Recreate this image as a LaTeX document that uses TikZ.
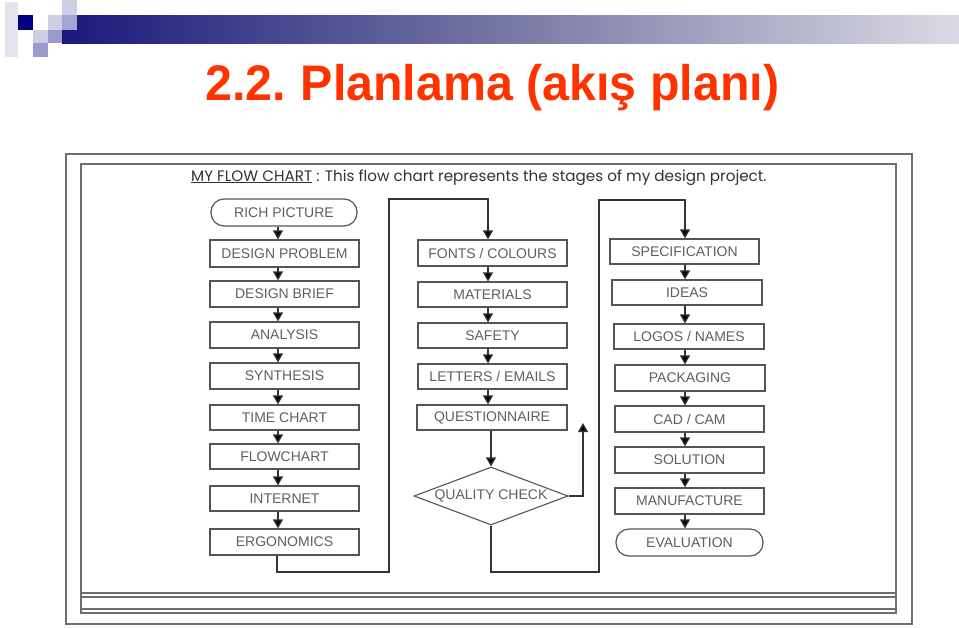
\documentclass[tikz,border=0pt]{standalone}
\usepackage{fontspec}
\setmainfont{Liberation Sans}
\newfontfamily\headfont{Poppins}
\usetikzlibrary{arrows.meta,shapes.geometric}
\definecolor{titlered}{RGB}{255,51,0}
\definecolor{navysq}{RGB}{0,0,128}
\definecolor{boxline}{RGB}{85,85,85}
\definecolor{boxtext}{RGB}{95,95,95}
\definecolor{frameline}{RGB}{110,110,110}
\definecolor{sqlight}{RGB}{205,205,228}
\definecolor{sqmid}{RGB}{155,155,202}
\definecolor{sqpale}{RGB}{228,228,238}
\definecolor{barleft}{RGB}{25,25,125}
\definecolor{barmid}{RGB}{120,120,165}
\definecolor{barright}{RGB}{218,218,228}
\tikzset{
  stepbox/.style={draw=boxline, line width=1.2pt, minimum width=149pt, minimum height=26pt,
    inner sep=0pt, font=\fontsize{14}{14}\selectfont, text=boxtext},
  termbox/.style={stepbox, rounded corners=13pt},
  decbox/.style={draw=boxline, line width=1.1pt, diamond, aspect=2.65, minimum width=154pt,
    minimum height=58pt, inner sep=0pt, font=\fontsize{14}{14}\selectfont, text=boxtext},
  arr/.style={draw=black!80, line width=1.3pt, -{Triangle[width=10pt,length=9pt,fill=black]}},
  frame/.style={draw=frameline, line width=1.1pt},
}
\begin{document}
\begin{tikzpicture}[x=1pt,y=-1pt]
\useasboundingbox (0,0) rectangle (959,627);
\fill[white] (0,0) rectangle (959,627);
% header decoration
\fill[sqpale] (5,2) rectangle (18,57);
\shade[left color=barleft, right color=barright, middle color=barmid] (62,15) rectangle (959,43);
\fill[navysq] (18,15) rectangle (33,30);
\fill[sqlight] (48,15) rectangle (62,30);
\fill[sqlight] (62,0) rectangle (77,15);
\fill[sqmid!80!sqlight] (62,15) rectangle (77,30);
\fill[sqlight] (33,30) rectangle (48,43);
\fill[sqmid] (48,30) rectangle (62,43);
\fill[sqmid] (33,43) rectangle (48,57);
% title
\node[anchor=base west, inner sep=0pt, text=titlered, font=\fontsize{50}{50}\selectfont\bfseries] (title) at (205,100) {\scalebox{0.967}[1]{2.2.\kern-3pt{} Planlama (akış planı)}};
% frames
\draw[frame] (66,154) rectangle (912,624);
\draw[frame] (81,164) rectangle (896,613);
\draw[frame] (81,593) -- (896,593);
\draw[frame] (81,597) -- (896,597);
\draw[frame] (81,609) -- (896,609);
% caption
\node[anchor=base west, inner sep=0pt, text=black!80, font=\headfont\fontsize{15.2}{16}\selectfont] (cap) at (191,181) {\underline{MY FLOW CHART} : This flow chart represents the stages of my design project.};
% column 1
\node[termbox, minimum width=146pt, minimum height=27pt] (rich) at (284,212.5) {RICH PICTURE};
\node[stepbox, minimum height=27pt] (dprob) at (284.5,253.5) {DESIGN PROBLEM};
\node[stepbox] (dbrief) at (284.5,294) {DESIGN BRIEF};
\node[stepbox] (anal) at (284.5,335) {ANALYSIS};
\node[stepbox] (synth) at (284.5,376) {SYNTHESIS};
\node[stepbox, minimum height=25pt] (time) at (284.5,417.5) {TIME CHART};
\node[stepbox, minimum height=25pt] (flow) at (284.5,456.5) {FLOWCHART};
\node[stepbox, minimum height=25pt] (inet) at (284.5,498.5) {INTERNET};
\node[stepbox] (ergo) at (284.5,542) {ERGONOMICS};
% column 2
\node[stepbox] (fonts) at (492.5,253) {FONTS / COLOURS};
\node[stepbox, minimum height=25pt] (mat) at (492.5,294.5) {MATERIALS};
\node[stepbox, minimum height=25pt] (safe) at (492.5,335.5) {SAFETY};
\node[stepbox, minimum height=25pt] (lett) at (492.5,376.5) {LETTERS / EMAILS};
\node[stepbox, minimum width=150pt, minimum height=25pt] (quest) at (492,417.5) {QUESTIONNAIRE};
\node[decbox] (qc) at (491,496) {QUALITY CHECK};
% column 3
\node[stepbox, minimum height=25pt] (spec) at (684.5,251.5) {SPECIFICATION};
\node[stepbox, minimum width=150pt, minimum height=25pt] (ideas) at (687,292.5) {IDEAS};
\node[stepbox, minimum width=150pt, minimum height=25pt] (logos) at (689,336.5) {LOGOS / NAMES};
\node[stepbox, minimum width=150pt] (pack) at (690,378) {PACKAGING};
\node[stepbox] (cad) at (689.5,419) {CAD / CAM};
\node[stepbox] (sol) at (689.5,460) {SOLUTION};
\node[stepbox] (manu) at (689.5,501) {MANUFACTURE};
\node[termbox, minimum width=147pt, minimum height=27pt] (eval) at (689.5,542.5) {EVALUATION};
% arrow columns
\coordinate (c1) at (278,0);
\coordinate (c2) at (488,0);
\coordinate (c3) at (685,0);
% column 1 arrows
\foreach \a/\b in {rich/dprob, dprob/dbrief, dbrief/anal, anal/synth, synth/time, time/flow, flow/inet, inet/ergo}
  \draw[arr] (\a.south -| c1) -- (\b.north -| c1);
% column 2 arrows
\foreach \a/\b in {fonts/mat, mat/safe, safe/lett, lett/quest}
  \draw[arr] (\a.south -| c2) -- (\b.north -| c2);
\draw[arr] (quest.south -| qc.north) -- (qc.north);
% column 3 arrows
\foreach \a/\b in {spec/ideas, ideas/logos, logos/pack, pack/cad, cad/sol, sol/manu, manu/eval}
  \draw[arr] (\a.south -| c3) -- (\b.north -| c3);
% loops
\coordinate (l1a) at (389,572);
\coordinate (l1b) at (389,199);
\coordinate (e1) at (277,0);
\draw[arr] (ergo.south -| e1) |- (l1a) -- (l1b) -| (fonts.north -| c2);
\coordinate (l2a) at (599,572);
\coordinate (l2b) at (599,200);
\draw[arr] (qc.south) |- (l2a) -- (l2b) -| (spec.north -| c3);
\coordinate (l3) at (583,423);
\draw[arr] (qc.east) -| (l3);
\end{tikzpicture}
\end{document}
